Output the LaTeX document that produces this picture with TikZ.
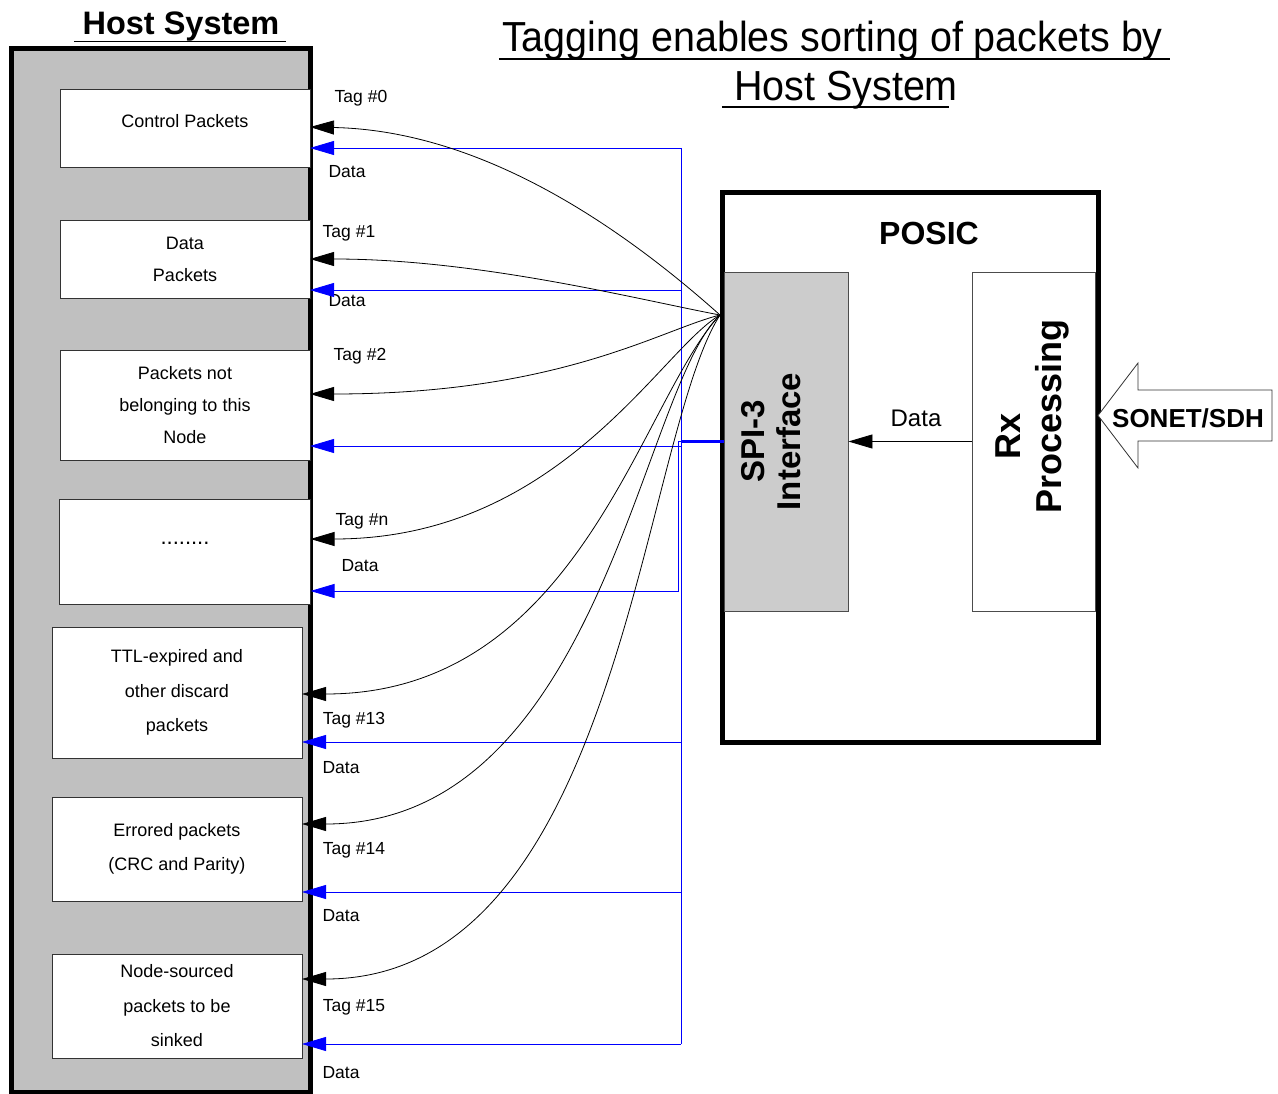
\documentclass[tikz,border=0pt]{standalone}
\usepackage{graphicx}
\usepackage{fontspec}
\setmainfont{Liberation Sans}
\usetikzlibrary{positioning,arrows.meta}

\definecolor{hostgray}{HTML}{C0C0C0}
\definecolor{spigray}{HTML}{CCCCCC}
\definecolor{busblue}{HTML}{0000FF}

\tikzset{%
  % Specifications for style of nodes:
      hostbox/.style = {rectangle, draw = black, line width=5pt, fill=hostgray, minimum width=299pt, minimum height=1043pt},
       pktbox/.style = {rectangle, draw = black!80, line width=0.8pt, outer sep=0pt, fill=white, minimum width=250pt, font=\fontsize{18}{32}\selectfont},
       lowpkt/.style = {pktbox, font=\fontsize{18}{34.5}\selectfont},
     posicbox/.style = {rectangle, draw = black, line width=5pt, fill=white, minimum width=376pt, minimum height=549pt},
       spibox/.style = {rectangle, draw = black!70, line width=0.8pt, fill=spigray, minimum width=123.5pt, minimum height=339pt},
        rxbox/.style = {spibox, fill=white},
        vtext/.style = {rotate=90, inner sep=0pt},
      heading/.style = {inner sep=0pt, font=\bfseries\fontsize{32.5}{39}\selectfont},
     bigtitle/.style = {inner sep=0pt, font=\fontsize{42}{50}\selectfont},
          lbl/.style = {inner sep=0pt, font=\fontsize{17.5}{21}\selectfont},
  % Specifications for style of arrows:
     tagarrow/.style = {-{Triangle[length=24pt,width=14pt]}, line width=0.8pt},
    dataarrow/.style = {-{Triangle[length=24pt,width=14pt]}, draw=busblue, line width=0.8pt},
      busline/.style = {draw=busblue, line width=0.8pt},
}

\begin{document}
\begin{tikzpicture}[x=1pt, y=-1pt, align=center]
    \useasboundingbox (0,0) rectangle (1278,1094);

    % Draw nodes
    \node (host)       [hostbox]                                      at (160.5,570.5) {};
    \node (hosttitle)  [heading, anchor=base]                         at (181,34.3)    {Host System};
    \node (ctrl)       [pktbox, minimum height=78pt, text height=13pt, text depth=14pt] at (185,128) {Control Packets};
    \node (datapkt)    [pktbox, minimum height=78pt, below=53pt of ctrl]               {Data\\Packets};
    \node (notmine)    [pktbox, minimum height=110pt, below=52pt of datapkt]           {Packets not\\belonging to this\\Node};
    \node (dots)       [pktbox, minimum height=105pt, minimum width=251pt, below=39pt of notmine,
                        text height=3pt, text depth=17pt, font=\fontsize{22}{26}\selectfont] {........};
    \node (ttl)        [lowpkt, minimum height=131pt, below=23pt of dots, xshift=-8pt] {TTL-expired and\\other discard\\packets};
    \node (err)        [lowpkt, minimum height=104pt, below=39pt of ttl]               {Errored packets\\(CRC and Parity)};
    \node (sink)       [lowpkt, minimum height=104pt, below=53pt of err]               {Node-sourced\\packets to be\\sinked};

    \node (title1)     [bigtitle, anchor=base]   at (832.5,52) {\scalebox{0.94}[1]{Tagging enables sorting of packets by}};
    \node (title2)     [bigtitle, anchor=base]   at (846,101)  {\scalebox{0.94}[1]{Host System}};

    \node (posic)      [posicbox]                at (910,467.5)     {};
    \node (posictitle) [heading, font=\bfseries\fontsize{32}{38}\selectfont] at (929,233) {POSIC};
    \node (spi)        [spibox]                  at (786.25,441.5)  {};
    \node (rx)         [rxbox]                   at (1033.75,441.5) {};
    \node (spitext)    [vtext, font=\bfseries\fontsize{33}{36.5}\selectfont] at (771,441.5)  {SPI-3\\Interface};
    \node (rxtext)     [vtext, font=\bfseries\fontsize{36}{41}\selectfont]   at (1032,416.5) {Rx\hspace*{39pt}\\Processing};
    \node (rxdata)     [lbl, font=\fontsize{24}{28}\selectfont]              at (916,418)    {Data};

    \draw[line width=0.8pt, draw=black!80, fill=white] (1098,415.5) -- (1138,363) -- (1138,390) -- (1272,390)
          -- (1272,441) -- (1138,441) -- (1138,468) -- cycle;
    \node (sonet)      [font=\bfseries\fontsize{26}{30}\selectfont]          at (1188,418)   {SONET/SDH};

    % Labels
    \node (tag0)  [lbl] at (361,98)   {Tag \#0};
    \node (dat0)  [lbl] at (347,172)  {Data};
    \node (tag1)  [lbl] at (349,233)  {Tag \#1};
    \node (dat1)  [lbl] at (347,301)  {Data};
    \node (tag2)  [lbl] at (360,356)  {Tag \#2};
    \node (tagn)  [lbl] at (362,521)  {Tag \#n};
    \node (datn)  [lbl] at (360,566)  {Data};
    \node (tag13) [lbl] at (354,720)  {Tag \#13};
    \node (dat13) [lbl] at (341,768)  {Data};
    \node (tag14) [lbl] at (354,850)  {Tag \#14};
    \node (dat14) [lbl] at (341,916)  {Data};
    \node (tag15) [lbl] at (354,1007) {Tag \#15};
    \node (dat15) [lbl] at (341,1073) {Data};

    % Underlines
    \draw[line width=1.5pt] ([shift={(-8,7)}]hosttitle.base west) -- ([shift={(6,7)}]hosttitle.base east);
    \draw[line width=1.5pt] ([shift={(-3,7)}]title1.base west)    -- ([shift={(7,7)}]title1.base east);
    \draw[line width=1.5pt] ([shift={(-12,6)}]title2.base west)   -- ([shift={(-9,6)}]title2.base east);

    % Draw arrows
    \coordinate (fan)    at (720,315);
    \coordinate (bustop) at (681,148);
    \coordinate (bus1)   at (681,290);
    \coordinate (bus2)   at (681,446);
    \coordinate (junct)  at (681,441.5);
    \coordinate (busn)   at (678,591);
    \coordinate (bus13)  at (681,742);
    \coordinate (bus14)  at (681,892);
    \coordinate (busbot) at (681,1044);

    \draw[busline]                   (bustop) -- (busbot);
    \draw[busline, line width=2.5pt] (spi.west) -- (junct);
    \draw[dataarrow] (bustop) -- (ctrl.east |- bustop);
    \draw[dataarrow] (bus1)   -- (datapkt.east |- bus1);
    \draw[dataarrow] (bus2)   -- (notmine.east |- bus2);
    \draw[dataarrow] (junct)  -- (busn |- junct) -- (busn) -- (dots.east |- busn);
    \draw[dataarrow] (bus13)  -- (ttl.east |- bus13);
    \draw[dataarrow] (bus14)  -- (err.east |- bus14);
    \draw[dataarrow] (busbot) -- (sink.east |- busbot);

    \draw[tagarrow] (fan) .. controls (580,190) and (450,130) .. ([yshift=1pt]ctrl.east);
    \draw[tagarrow] (fan) .. controls (640,300) and (480,259) .. (datapkt.east);
    \draw[tagarrow] (fan) .. controls (660,330) and (560,394) .. ([yshift=11pt]notmine.east);
    \draw[tagarrow] (fan) .. controls (660,350) and (560,539) .. ([yshift=12.5pt]dots.east);
    \draw[tagarrow] (fan) .. controls (640,400) and (580,694) .. ([yshift=-1.5pt]ttl.east);
    \draw[tagarrow] (fan) .. controls (640,390) and (600,824) .. ([yshift=25pt]err.east);
    \draw[tagarrow] (fan) .. controls (640,440) and (620,979) .. ([yshift=27pt]sink.east);

    \draw[tagarrow] (rx.west) -- (spi.east);

\end{tikzpicture}
\end{document}
